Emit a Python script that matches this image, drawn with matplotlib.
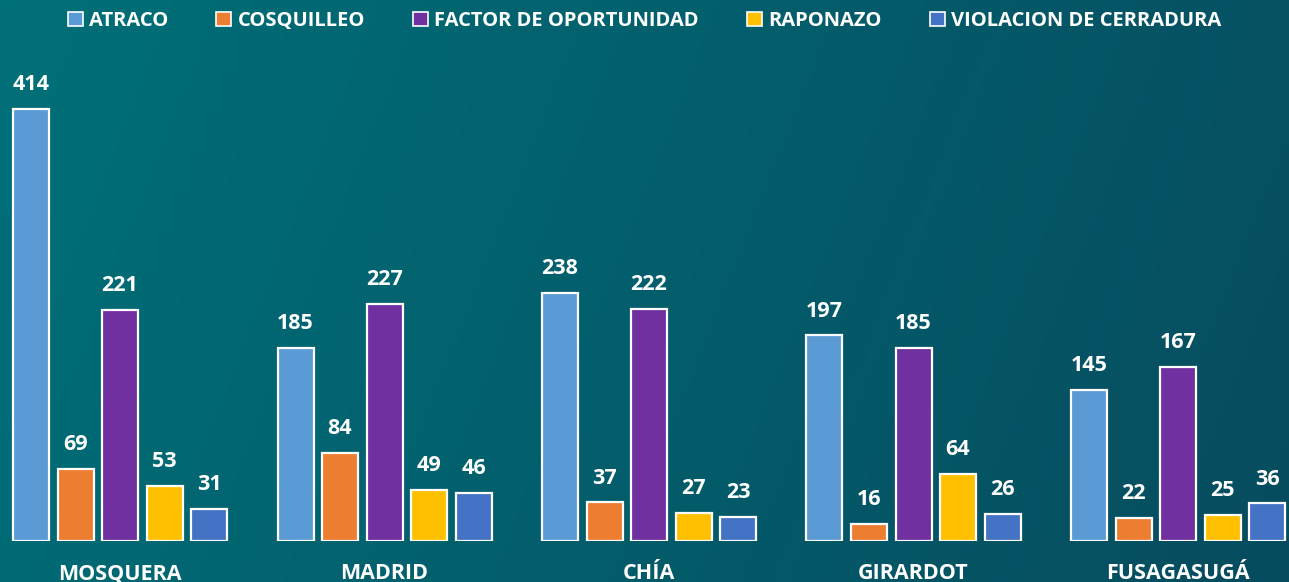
import numpy as np
import matplotlib.pyplot as plt
from matplotlib.colors import LinearSegmentedColormap
from matplotlib.patches import Patch

plt.rcParams['font.family'] = ['Open Sans', 'DejaVu Sans']
plt.rcParams['font.weight'] = 'bold'

municipios = ['MOSQUERA', 'MADRID', 'CHÍA', 'GIRARDOT', 'FUSAGASUGÁ']
modalidades = ['ATRACO', 'COSQUILLEO', 'FACTOR DE OPORTUNIDAD', 'RAPONAZO', 'VIOLACION DE CERRADURA']
atraco = [414, 185, 238, 197, 145]
cosquilleo = [69, 84, 37, 16, 22]
factor = [221, 227, 222, 185, 167]
raponazo = [53, 49, 27, 64, 25]
violacion = [31, 46, 23, 26, 36]
series = [atraco, cosquilleo, factor, raponazo, violacion]
colores = ['#5B9BD5', '#ED7D31', '#7030A0', '#FFC000', '#4472C4']

W, H = 1289, 582
fig = plt.figure(figsize=(W / 100, H / 100), dpi=100)

# teal gradient background
bg = fig.add_axes([0, 0, 1, 1])
cmap = LinearSegmentedColormap.from_list('fondo', ['#007078', '#035E6C', '#064C5E'])
xx, yy = np.meshgrid(np.linspace(0, 1, 300), np.linspace(0, 1, 150))
bg.imshow(0.85 * xx + 0.15 * yy, cmap=cmap, aspect='auto', extent=[0, 1, 0, 1], origin='upper')
bg.axis('off')

base = 41 / H
ax = fig.add_axes([0, base, 1, 1 - base])
ax.patch.set_alpha(0)

x = np.arange(len(municipios))
ancho = 36 / 264.5
paso = 44.5 / 264.5
for i, (vals, col) in enumerate(zip(series, colores)):
    pos = x + (i - 2) * paso
    bars = ax.bar(pos, vals, width=ancho, color=col, edgecolor='white', linewidth=1.6,
                  label=modalidades[i], zorder=3)
    for b, v in zip(bars, vals):
        ax.annotate(str(v), (b.get_x() + b.get_width() / 2, v), xytext=(0, 10),
                    textcoords='offset points', ha='center', va='bottom',
                    color='white', fontsize=15.5, fontweight='bold')

ax.set_xlim(-120 / 264.5, (W - 120) / 264.5)
ax.set_ylim(0, 541 / 1.0435)
ax.set_xticks(x)
ax.set_xticklabels(municipios, color='white', fontsize=15.5, fontweight='bold')
ax.tick_params(axis='x', length=0, pad=16)
ax.set_yticks([])
for s in ax.spines.values():
    s.set_visible(False)

handles = [Patch(facecolor=c, edgecolor='white', linewidth=1.2) for c in colores]
leg = fig.legend(handles, modalidades, loc='center', bbox_to_anchor=(0.5, 1 - 21 / H), ncol=5,
                 frameon=False, fontsize=14.5, handlelength=0.75, handleheight=0.75,
                 handletextpad=0.3, columnspacing=2.4, labelcolor='white')
for t in leg.get_texts():
    t.set_fontweight('bold')

fig.savefig('out.png', dpi=100)
